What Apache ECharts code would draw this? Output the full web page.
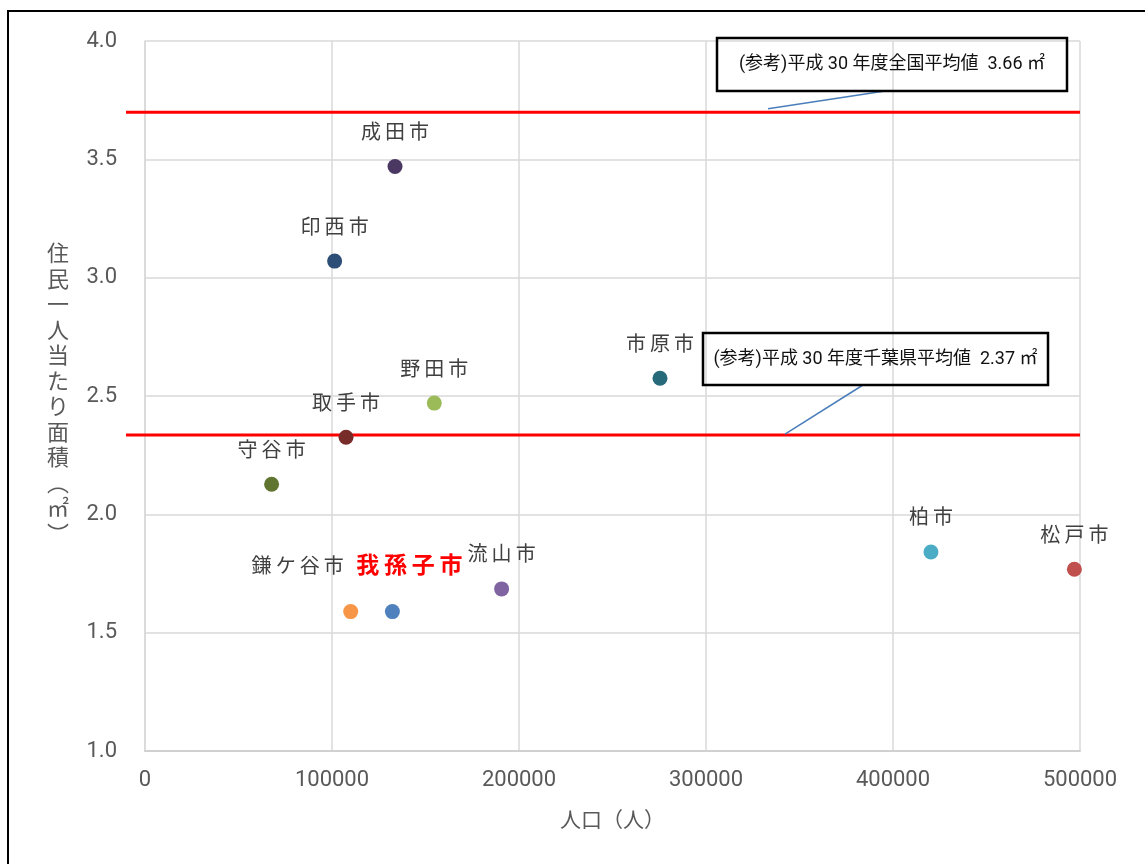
<!DOCTYPE html>
<html><head><meta charset="utf-8">
<script src="https://cdn.jsdelivr.net/npm/echarts@6/dist/echarts.min.js"></script>
<style>
html,body{margin:0;padding:0;background:#fff}
#wrap{position:relative;width:1145px;height:864px;overflow:hidden}
#c{width:1145px;height:864px}
#fl{position:absolute;left:7px;top:10px;width:2px;height:860px;background:#000}
#ft{position:absolute;left:7px;top:10px;width:1140px;height:2px;background:#000}
</style></head>
<body><div id="wrap"><div id="c"></div><div id="fl"></div><div id="ft"></div></div>
<script>
const cities = ['成田市','印西市','市原市','野田市','取手市','守谷市','柏市','松戸市','流山市','鎌ケ谷市','我孫子市'];
const population = [133700, 101400, 275400, 154700, 107500, 67700, 420300, 497000, 190700, 110000, 132300];
const areaPerCapita = [3.47, 3.07, 2.575, 2.47, 2.326, 2.127, 1.841, 1.768, 1.685, 1.589, 1.589];
const pointColors = ['#4a3862','#2c4d75','#276a7a','#9bbb59','#772c2a','#5f7530','#4bacc6','#c0504d','#8064a2','#f79646','#4f81bd'];
const highlightCity = '我孫子市';
const referenceLines = [3.699, 2.335];
const referenceTexts = ['(参考)平成 30 年度全国平均値  3.66 ㎡', '(参考)平成 30 年度千葉県平均値  2.37 ㎡'];
const xTicks = [0, 100000, 200000, 300000, 400000, 500000];
const yTicks = [1.0, 1.5, 2.0, 2.5, 3.0, 3.5, 4.0];
const xName = '人口（人）';
const yNameChars = ['住','民','一','人','当','た','り','面','積','︵','㎡','︶'];

const FONT = 'Roboto, "Noto Sans CJK JP", sans-serif';
const GREY = '#595959';
const spaced = s => s.split('').join('\u2009');

const data = cities.map((c, i) => {
  const item = { name: c, value: [population[i], areaPerCapita[i]], itemStyle: { color: pointColors[i], opacity: 1 } };
  if (c === highlightCity) {
    item.label = { color: '#ff0000', fontWeight: 'bold', fontSize: 23, offset: [17, -10] };
  } else if (c === '鎌ケ谷市') {
    item.label = { offset: [-53, -11] };
  }
  return item;
});

const chart = echarts.init(document.getElementById('c'));
chart.setOption({
  backgroundColor: '#ffffff',
  animation: false,
  grid: { left: 145, right: 65, top: 41, bottom: 113, containLabel: false },
  xAxis: {
    type: 'value', min: xTicks[0], max: xTicks[xTicks.length - 1], interval: 100000,
    name: xName, nameLocation: 'middle', nameGap: 60,
    nameTextStyle: { fontSize: 21, color: GREY, fontFamily: FONT },
    axisLine: { show: true, lineStyle: { color: '#d0d0d0', width: 2 } },
    axisTick: { show: false },
    axisLabel: { fontSize: 22, color: GREY, fontFamily: FONT, margin: 18, formatter: v => String(v) },
    splitLine: { show: true, lineStyle: { color: '#d9d9d9', width: 1.5 } }
  },
  yAxis: {
    type: 'value', min: yTicks[0], max: yTicks[yTicks.length - 1], interval: 0.5,
    name: yNameChars.join('\n'), nameLocation: 'middle', nameRotate: 0, nameGap: 76,
    nameTextStyle: { fontSize: 22, color: GREY, fontFamily: FONT, lineHeight: 25.5 },
    axisLine: { show: true, lineStyle: { color: '#d9d9d9', width: 1.5 } },
    axisTick: { show: false },
    axisLabel: { fontSize: 22, color: GREY, fontFamily: FONT, margin: 28, formatter: v => v.toFixed(1) },
    splitLine: { show: true, lineStyle: { color: '#d9d9d9', width: 1.5 } }
  },
  series: [{
    type: 'scatter', z: 5, symbolSize: 15, data,
    emphasis: { disabled: true },
    label: {
      show: true, position: 'top', distance: 15,
      formatter: p => spaced(p.name),
      fontSize: 20, color: '#404040', fontFamily: FONT
    }
  }]
});

function drawDecor() {
  const x0 = chart.convertToPixel({ xAxisIndex: 0 }, xTicks[0]);
  const x1 = chart.convertToPixel({ xAxisIndex: 0 }, xTicks[xTicks.length - 1]);
  const ys = referenceLines.map(v => chart.convertToPixel({ yAxisIndex: 0 }, v));
  const boxes = [
    { x: 717, y: 38, w: 350, h: 53, from: [885, 91], to: [768, ys[0] - 3.5] },
    { x: 703, y: 333, w: 345, h: 52, from: [863, 385], to: [785, ys[1] - 1] }
  ];
  const els = [];
  ys.forEach(y => els.push({
    type: 'line', z: 1, shape: { x1: x0 - 19, y1: y, x2: x1, y2: y },
    style: { stroke: '#ff0000', lineWidth: 3 }
  }));
  boxes.forEach((b, i) => {
    els.push({ type: 'rect', z: 10, shape: { x: b.x, y: b.y, width: b.w, height: b.h },
      style: { fill: 'none', stroke: '#000', lineWidth: 2.5 } });
    els.push({ type: 'text', z: 11, x: b.x + b.w / 2, y: b.y + b.h / 2,
      style: { text: referenceTexts[i], fill: '#111', fontSize: 18, fontFamily: FONT, align: 'center', verticalAlign: 'middle' } });
    els.push({ type: 'line', z: 9, shape: { x1: b.from[0], y1: b.from[1], x2: b.to[0], y2: b.to[1] },
      style: { stroke: '#4a7ebb', lineWidth: 1.5 } });
  });
  chart.setOption({ graphic: { elements: els } });
}
drawDecor();
</script>
</body></html>
